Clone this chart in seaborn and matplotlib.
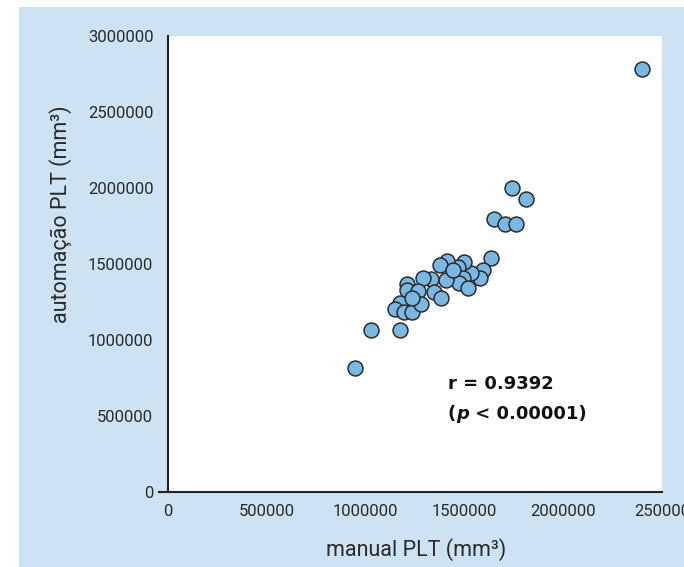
import matplotlib
matplotlib.use("Agg")
import matplotlib.pyplot as plt
import seaborn as sns
import pandas as pd
from matplotlib.patches import Rectangle

# Data
manual = [2400000, 1740000, 1810000, 1648000, 1704000, 1760000, 1633000, 1592000,
          1577000, 1531000, 1496000, 1466000, 1410000, 1379000, 1491000, 1471000,
          1516000, 1405000, 1329000, 1344000, 1384000, 1288000, 1212000, 1212000,
          1263000, 1176000, 1151000, 1192000, 1237000, 1278000, 1237000, 1029000,
          1176000, 948000, 1440000]
automacao = [2780000, 2000000, 1926000, 1795000, 1762000, 1762000, 1540000, 1461000,
             1409000, 1442000, 1514000, 1481000, 1520000, 1494000, 1409000, 1376000,
             1343000, 1396000, 1402000, 1317000, 1277000, 1409000, 1369000, 1330000,
             1323000, 1245000, 1205000, 1185000, 1185000, 1238000, 1277000, 1067000,
             1067000, 818000, 1461000]
x_ticks = [0, 500000, 1000000, 1500000, 2000000, 2500000]
x_ticklabels = ["0", "500000", "1000000", "1500000", "2000000", "250000"]
y_ticks = [0, 500000, 1000000, 1500000, 2000000, 2500000, 3000000]
y_ticklabels = ["0", "500000", "1000000", "1500000", "2000000", "2500000", "3000000"]

sns.set_style("white")
plt.rcParams["font.family"] = ["Roboto", "DejaVu Sans"]

df = pd.DataFrame({"manual": manual, "automacao": automacao})

fig = plt.figure(figsize=(6.84, 5.67), dpi=100)
fig.patch.set_facecolor("white")
bg = Rectangle((19 / 684, 0), 1 - 19 / 684, 1 - 7 / 567, transform=fig.transFigure,
               facecolor="#cde3f4", edgecolor="none", zorder=-10)
fig.patches.append(bg)

ax = fig.add_axes([168 / 684, 1 - 492 / 567, (662 - 168) / 684, (492 - 36) / 567])
ax.set_facecolor("white")

sns.scatterplot(data=df, x="manual", y="automacao", ax=ax, s=115,
                color="#7ab8e4", edgecolor="#2b2b2b", linewidth=1.1, zorder=3,
                clip_on=False)

ax.set_xlim(0, 2500000)
ax.set_ylim(0, 3000000)
ax.set_xticks(x_ticks)
ax.set_xticklabels(x_ticklabels)
ax.set_yticks(y_ticks)
ax.set_yticklabels(y_ticklabels)

for s in ["top", "right"]:
    ax.spines[s].set_visible(False)
for s in ["left", "bottom"]:
    ax.spines[s].set_color("#222222")
    ax.spines[s].set_linewidth(1.5)
ax.spines["bottom"].set_bounds(-45000, 2500000)

ax.tick_params(axis="both", direction="inout", length=13, width=1.5, color="#222222",
               labelsize=12, labelcolor="#2a2a2a")
ax.tick_params(axis="y", pad=4)
ax.tick_params(axis="x", pad=2)

ax.set_xlabel("manual PLT (mm³)", fontsize=15.5, color="#2a2a2a")
ax.set_ylabel("automação PLT (mm³)", fontsize=15.5, color="#2a2a2a")
ax.xaxis.set_label_coords(0.503, -0.10)
ax.yaxis.set_label_coords(-0.194, 0.61)

fkw = dict(fontsize=13, fontweight="bold", family="DejaVu Sans", color="#111111")
ax.text(1415000, 675000, "r = 0.9392", va="baseline", ha="left", **fkw)
t1 = ax.text(1415000, 478000, "(", va="baseline", ha="left", **fkw)
t2 = ax.annotate("p", xy=(1, 0), xycoords=t1, va="bottom", ha="left",
                 fontstyle="italic", **fkw)
ax.annotate(" < 0.00001)", xy=(1, 0), xycoords=t2, va="bottom", ha="left", **fkw)

fig.savefig("out.png", dpi=100, facecolor=fig.get_facecolor())
